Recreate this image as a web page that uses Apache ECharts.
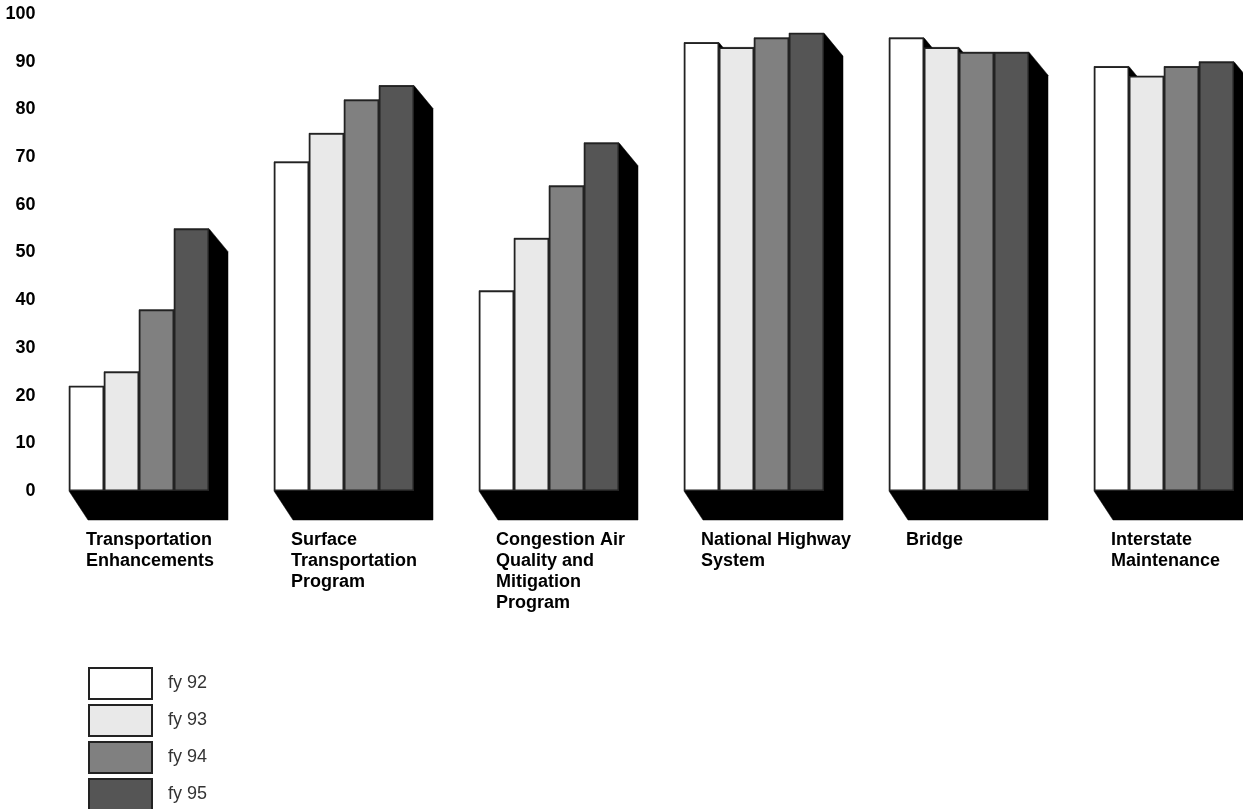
<!DOCTYPE html>
<html>
<head>
<meta charset="utf-8">
<title>Federal-aid highway programs, fy 92 - fy 95</title>
<script src="https://cdn.jsdelivr.net/npm/echarts@6/dist/echarts.min.js"></script>
<style>
  html, body { margin: 0; padding: 0; background: #ffffff; }
  #chart { width: 1243px; height: 809px; }
</style>
</head>
<body>
<div id="chart"></div>
<script>
// Program categories (line breaks as printed under each group)
const categories = [
  'Transportation\nEnhancements',
  'Surface\nTransportation\nProgram',
  'Congestion Air\nQuality and\nMitigation\nProgram',
  'National Highway\nSystem',
  'Bridge',
  'Interstate\nMaintenance'
];

// Values per fiscal year
const fy92 = [22, 69, 42, 94, 95, 89];
const fy93 = [25, 75, 53, 93, 93, 87];
const fy94 = [38, 82, 64, 95, 92, 89];
const fy95 = [55, 85, 73, 96, 92, 90];

const seriesNames = ['fy 92', 'fy 93', 'fy 94', 'fy 95'];
const seriesValues = [fy92, fy93, fy94, fy95];

// Value axis ticks
const yMin = 0;
const yMax = 100;
const yStep = 10;

// Styling
const barColors = ['#ffffff', '#e9e9e9', '#808080', '#555555'];
const BAR_W = 35;
const SHADOW_DX = 19;
const SHADOW_DY_TOP = 23;
const SHADOW_DY_BASE = 29;
const FONT = '"Liberation Sans", Arial, Helvetica, sans-serif';

// Extruded black shadow behind every bar
const shadowData = [];
seriesValues.forEach((vals, s) => {
  vals.forEach((v, j) => shadowData.push([j, v, s]));
});

function renderShadow(params, api) {
  const j = api.value(0);
  const v = api.value(1);
  const s = api.value(2);
  const top = api.coord([j, v]);
  const base = api.coord([j, 0]);
  const n = seriesValues.length;
  const x0 = top[0] + (s - n / 2) * BAR_W;
  const x1 = x0 + BAR_W;
  return {
    type: 'polygon',
    shape: {
      points: [
        [x0, top[1]],
        [x1, top[1]],
        [x1 + SHADOW_DX, top[1] + SHADOW_DY_TOP],
        [x1 + SHADOW_DX, base[1] + SHADOW_DY_BASE],
        [x0 + SHADOW_DX, base[1] + SHADOW_DY_BASE],
        [x0, base[1]]
      ]
    },
    style: { fill: '#000000', stroke: '#000000', lineWidth: 0.5 }
  };
}

// Category captions, left-aligned under each group
function renderCaption(params, api) {
  const j = api.value(0);
  const base = api.coord([j, 0]);
  const n = seriesValues.length;
  return {
    type: 'text',
    x: base[0] - (n / 2) * BAR_W + 17,
    y: base[1] + 39,
    style: {
      text: categories[j],
      fill: '#000000',
      font: 'bold 18px ' + FONT,
      lineHeight: 21,
      align: 'left',
      verticalAlign: 'top'
    }
  };
}

const barSeries = seriesNames.map((name, s) => ({
  name: name,
  type: 'bar',
  data: seriesValues[s],
  barWidth: BAR_W,
  barGap: '0%',
  z: 3,
  itemStyle: {
    color: barColors[s],
    borderColor: '#222222',
    borderWidth: 1.5
  }
}));

const chart = echarts.init(document.getElementById('chart'), null, { renderer: 'canvas' });

chart.setOption({
  animation: false,
  backgroundColor: '#ffffff',
  // the last group's shadow runs past the right edge, so the plot extends beyond it
  grid: {
    left: 36.5,
    top: 14,
    right: -23.5,
    height: 477,
    containLabel: false,
    outerBoundsMode: 'none'
  },
  xAxis: {
    type: 'category',
    data: categories,
    axisLine: { show: false },
    axisTick: { show: false },
    axisLabel: { show: false },
    splitLine: { show: false }
  },
  yAxis: {
    type: 'value',
    min: yMin,
    max: yMax,
    interval: yStep,
    axisLine: { show: false },
    axisTick: { show: false },
    splitLine: { show: false },
    axisLabel: {
      margin: 1,
      color: '#000000',
      fontFamily: FONT,
      fontWeight: 'bold',
      fontSize: 18
    }
  },
  legend: {
    data: seriesNames,
    orient: 'vertical',
    left: 88,
    top: 667,
    height: 150,
    padding: 0,
    itemWidth: 63,
    itemHeight: 31,
    itemGap: 4,
    icon: 'rect',
    selectedMode: false,
    textStyle: {
      color: '#333333',
      fontFamily: FONT,
      fontSize: 18,
      padding: [0, 0, 0, 11]
    }
  },
  series: [
    {
      type: 'custom',
      name: 'shadow',
      renderItem: renderShadow,
      data: shadowData,
      encode: { x: 0, y: 1 },
      z: 1,
      silent: true
    },
    ...barSeries,
    {
      type: 'custom',
      name: 'captions',
      renderItem: renderCaption,
      data: categories.map((c, j) => [j, 0]),
      encode: { x: 0, y: 1 },
      z: 4,
      silent: true
    }
  ]
});
</script>
</body>
</html>
